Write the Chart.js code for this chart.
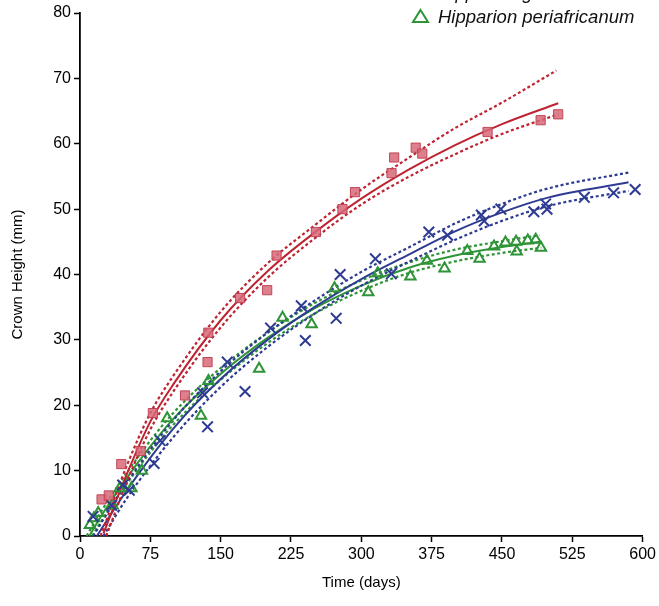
<!DOCTYPE html>
<html>
<head>
<meta charset="utf-8">
<script src="https://cdn.jsdelivr.net/npm/chart.js@4.4.0/dist/chart.umd.min.js"></script>
<style>
  html, body { margin: 0; padding: 0; background: #fff; }
  #wrap { width: 659px; height: 606px; position: relative; }
</style>
</head>
<body>
<div id="wrap"><canvas id="growth"></canvas></div>
<script>
// measured crown heights (mm) against time (days)
const redDays = [23, 30.7, 44, 64.7, 77.7, 112, 136, 136.8, 170.7, 199.6, 209.6, 251.6, 279.9, 293.3, 332.2, 335, 358, 365, 434.6, 491.2, 509.9];
const redHeight = [5.6, 6.2, 11.0, 13.0, 18.8, 21.5, 26.6, 31.1, 36.4, 37.6, 42.9, 46.5, 50.0, 52.6, 55.5, 57.9, 59.4, 58.5, 61.8, 63.6, 64.5];

const blueDays = [14, 33.6, 45.5, 52.5, 79, 85.5, 130.7, 136, 157, 176, 203.2, 236, 240.3, 273.2, 277.4, 315, 332, 372, 392, 428, 431, 448.8, 484, 496.5, 498, 537.8, 569, 592];
const blueHeight = [3.0, 4.7, 7.8, 7.0, 11.1, 14.6, 21.9, 16.7, 26.6, 22.1, 31.8, 35.2, 29.9, 33.3, 40.0, 42.4, 40.1, 46.5, 46.0, 49.1, 48.2, 50.0, 49.6, 50.8, 50.0, 51.8, 52.5, 53.0];

const greenDays = [10.6, 14.8, 19.4, 34.6, 42.4, 54.8, 66, 93, 129, 137, 191, 216, 247, 271.4, 307.4, 317.5, 352.3, 370, 388.7, 413, 426, 441.5, 453.7, 465, 465.7, 477.5, 486, 491.5];
const greenHeight = [1.7, 2.7, 3.5, 4.7, 7.3, 7.3, 10.0, 18.0, 18.4, 23.7, 25.6, 33.4, 32.4, 37.9, 37.3, 40.2, 39.7, 42.1, 40.9, 43.6, 42.4, 44.3, 44.9, 45.0, 43.5, 45.2, 45.3, 44.1];

// fitted growth curves with their confidence bands
const redFitDays = [25, 50, 75, 100, 150, 200, 250, 300, 350, 400, 450, 510];
const redFit = [0.4, 9.5, 17.5, 23.3, 33.0, 40.5, 46.4, 51.6, 56.0, 59.8, 63.0, 66.2];
const redUpperDays = [22, 50, 75, 100, 150, 200, 250, 300, 350, 400, 450, 508];
const redUpper = [0, 10.8, 18.8, 24.6, 34.3, 41.7, 47.5, 53.0, 57.8, 62.4, 66.3, 71.2];
const redLowerDays = [28, 50, 75, 100, 150, 200, 250, 300, 350, 400, 450, 510];
const redLower = [0, 8.3, 16.3, 22.2, 31.9, 39.5, 45.5, 50.7, 54.9, 58.4, 61.5, 64.5];

const blueFitDays = [18, 50, 100, 150, 200, 250, 300, 350, 400, 450, 500, 585];
const blueFit = [0, 7.0, 16.5, 24.0, 30.0, 35.0, 39.3, 43.0, 46.6, 49.5, 51.8, 54.1];
const blueUpperDays = [14, 50, 100, 150, 200, 250, 300, 350, 400, 450, 500, 585];
const blueUpper = [0, 8.2, 17.8, 25.2, 31.1, 36.0, 40.4, 44.1, 47.8, 50.8, 53.2, 55.6];
const blueLowerDays = [25, 50, 100, 150, 200, 250, 300, 350, 400, 450, 500, 585];
const blueLower = [0, 5.8, 15.2, 22.8, 28.9, 34.0, 38.3, 41.9, 45.3, 48.2, 50.5, 52.8];

const greenFitDays = [10, 25, 50, 75, 100, 150, 200, 250, 300, 350, 400, 450, 491];
const greenFit = [0, 3.6, 8.9, 13.7, 18.0, 24.8, 30.3, 34.8, 38.3, 41.0, 42.9, 44.2, 45.0];
const greenUpperDays = [7, 25, 50, 75, 100, 150, 200, 250, 300, 350, 400, 450, 490];
const greenUpper = [0, 4.3, 9.7, 14.6, 18.9, 25.7, 31.1, 35.6, 39.1, 41.8, 43.8, 45.1, 46.0];
const greenLowerDays = [13, 25, 50, 75, 100, 150, 200, 250, 300, 350, 400, 450, 492];
const greenLower = [0, 2.8, 8.0, 12.8, 17.1, 23.9, 29.5, 34.0, 37.5, 40.2, 42.0, 43.3, 44.1];

const xTicks = [0, 75, 150, 225, 300, 375, 450, 525, 600];
const yTicks = [0, 10, 20, 30, 40, 50, 60, 70, 80];
const legendNames = ['Hipparion gromovae', 'Hipparion periafricanum'];

const RED = '#be2331';
const BLUE = '#2e3b92';
const GREEN = '#2f9437';
const FONT = "'Liberation Sans', Arial, Helvetica, sans-serif";

function pairs(xs, ys) {
  return xs.map((x, i) => ({ x: x, y: ys[i] }));
}

function curve(xs, ys, color, dashed) {
  return {
    type: 'line',
    data: pairs(xs, ys),
    borderColor: color,
    borderWidth: dashed ? 2.2 : 2,
    borderDash: dashed ? [3, 2.5] : [],
    pointRadius: 0,
    fill: false,
    cubicInterpolationMode: 'monotone'
  };
}

// partial legend in the top right corner, first row runs off the canvas
const cornerLegend = {
  id: 'cornerLegend',
  afterDraw(chart) {
    const ctx = chart.ctx;
    ctx.save();
    ctx.font = 'italic 18.5px ' + FONT;
    ctx.fillStyle = '#111';
    ctx.textBaseline = 'alphabetic';
    const textX = 438;
    const baselines = [-1.5, 22.5];
    legendNames.forEach((name, i) => {
      ctx.fillText(name, textX, baselines[i]);
    });
    // triangle marker for the second row
    ctx.strokeStyle = GREEN;
    ctx.lineWidth = 2;
    ctx.beginPath();
    ctx.moveTo(420.5, 10);
    ctx.lineTo(428, 22);
    ctx.lineTo(413, 22);
    ctx.closePath();
    ctx.stroke();
    ctx.restore();
  }
};

new Chart(document.getElementById('growth'), {
  type: 'scatter',
  data: {
    datasets: [
      {
        data: pairs(redDays, redHeight),
        pointStyle: 'rect',
        pointRadius: 6.5,
        backgroundColor: 'rgba(215, 105, 120, 0.85)',
        borderColor: 'rgba(190, 60, 78, 0.9)',
        borderWidth: 1
      },
      {
        data: pairs(blueDays, blueHeight),
        pointStyle: 'crossRot',
        pointRadius: 7.5,
        borderColor: BLUE,
        borderWidth: 2
      },
      {
        data: pairs(greenDays, greenHeight),
        pointStyle: 'triangle',
        pointRadius: 6,
        backgroundColor: 'rgba(0,0,0,0)',
        borderColor: GREEN,
        borderWidth: 2
      },
      curve(redFitDays, redFit, RED, false),
      curve(redUpperDays, redUpper, RED, true),
      curve(redLowerDays, redLower, RED, true),
      curve(blueFitDays, blueFit, BLUE, false),
      curve(blueUpperDays, blueUpper, BLUE, true),
      curve(blueLowerDays, blueLower, BLUE, true),
      curve(greenFitDays, greenFit, GREEN, false),
      curve(greenUpperDays, greenUpper, GREEN, true),
      curve(greenLowerDays, greenLower, GREEN, true)
    ]
  },
  options: {
    responsive: true,
    maintainAspectRatio: false,
    animation: false,
    layout: { padding: { top: 13, right: 13, left: 0, bottom: 0 } },
    plugins: {
      legend: { display: false },
      tooltip: { enabled: false }
    },
    scales: {
      x: {
        type: 'linear',
        min: 0,
        max: 600,
        afterBuildTicks: (scale) => { scale.ticks = xTicks.map(v => ({ value: v })); },
        afterFit: (scale) => { scale.height = 70; },
        grid: { drawOnChartArea: false, drawTicks: true, tickLength: 6, tickColor: '#000', tickWidth: 1.5 },
        border: { color: '#000', width: 1.8 },
        ticks: { color: '#000', font: { family: FONT, size: 16 }, padding: 3, maxRotation: 0 },
        title: { display: true, text: 'Time (days)', color: '#000', font: { family: FONT, size: 15 }, padding: { top: 0, bottom: 14 } }
      },
      y: {
        type: 'linear',
        min: 0,
        max: 80,
        afterBuildTicks: (scale) => { scale.ticks = yTicks.map(v => ({ value: v })); },
        afterFit: (scale) => { scale.width = 80; },
        grid: { drawOnChartArea: false, drawTicks: true, tickLength: 6, tickColor: '#000', tickWidth: 1.5 },
        border: { color: '#000', width: 1.8 },
        ticks: { color: '#000', font: { family: FONT, size: 16 }, padding: 3 },
        title: { display: true, text: 'Crown Height (mm)', color: '#000', font: { family: FONT, size: 15 }, padding: { top: 9, bottom: 0 } }
      }
    }
  },
  plugins: [cornerLegend]
});
</script>
</body>
</html>
